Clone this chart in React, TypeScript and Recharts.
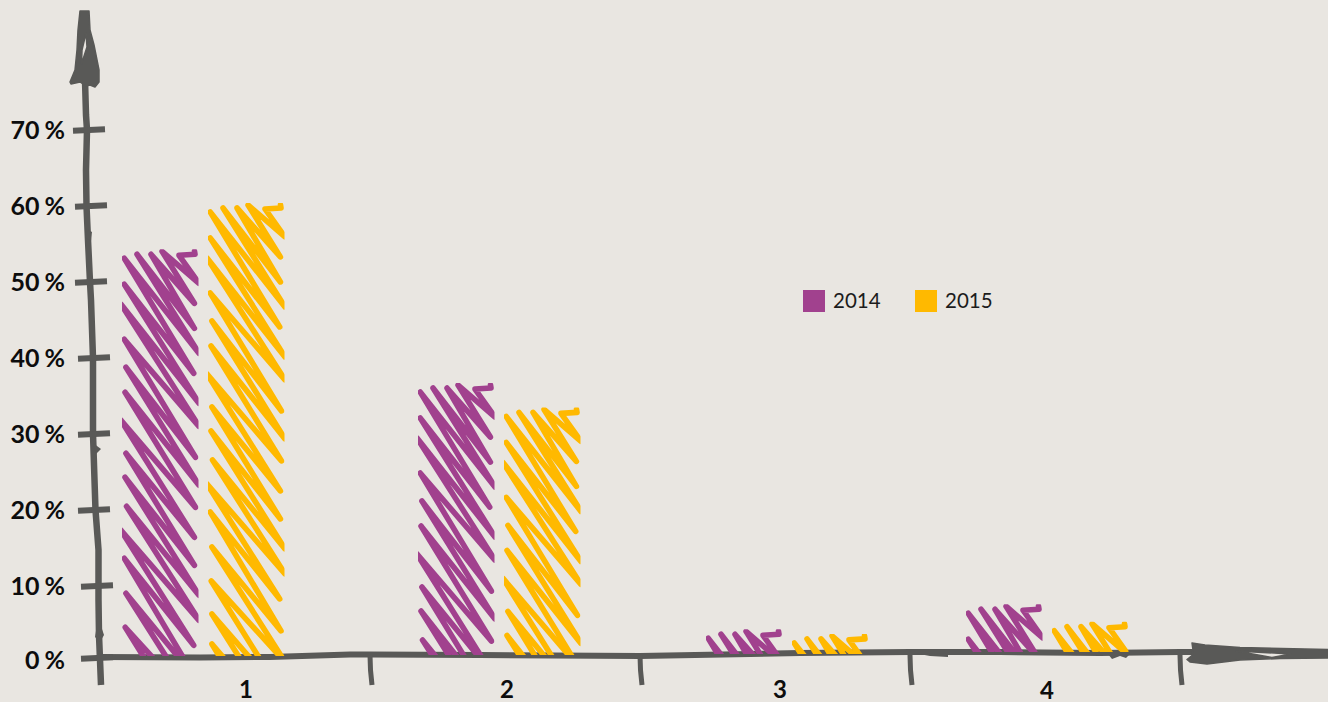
import React from "react";
import { BarChart, Bar, XAxis, YAxis, Legend } from "recharts";

// ---- data ----
const categories = ["1", "2", "3", "4"];
const series2014 = [54.3, 36.7, 4.3, 7.6];
const series2015 = [60.4, 33.5, 3.7, 5.3];
const yTicks = [0, 10, 20, 30, 40, 50, 60, 70];
const seriesNames = ["2014", "2015"];

const rows = categories.map((c, i) => ({ cat: c, a: series2014[i], b: series2015[i] }));

// ---- style ----
const BG = "#e9e6e1";
const INK = "#595957";
const PURPLE = "#a1418e";
const ORANGE = "#ffb900";
const TEXT = "#0d0d0d";
const LABEL_FONT = "Lato, 'DejaVu Sans', sans-serif";

// hand-drawn wobble offsets (decoration only)
const BAR_SHIFT = [-32, -6, 12, 2];
const BASE_LIFT = [6, 7, 8, 10];
const LABEL_SHIFT = [11, 2, 5, 2];
const LABEL_DROP = [0, 0, 0, 0.5];
const YTICK_LEFT = [81, 81, 78, 78, 78, 75, 75, 73];
const YTICK_DROP = [-4, 0, 0, 0, 0, 0, 0, 0];

// the scribble that fills each bar: the same hand stroke, anchored at the bar top
const SCRIBBLE_TOP: [number, number][] = [
  [72.5, -7], [73, -4], [57, -3], [77, 25], [40, -7], [72.4, 45], [29, -4], [72.4, 70], [15, -4], [77, 95],
];
const SCRIBBLE_LEFT: [number, number][] = [
  [2.2, 0], [2.2, 26], [-1, 46], [2.2, 81], [3.9, 109], [3, 134], [-1, 162], [3.9, 195], [3, 219], [4.5, 248],
  [-1, 272], [2.2, 300], [3.9, 335], [3.2, 369], [3.9, 402], [3.9, 432], [2, 462],
];
const SCRIBBLE_RIGHT: [number, number][] = [
  [71.7, 115], [77, 145], [77, 168], [73.5, 199], [77, 227], [73.5, 249], [72.4, 279], [72.4, 307], [77, 337],
  [77, 362], [71.7, 387], [73, 419], [77, 450], [75, 484], [77, 518], [74, 548], [77, 578],
];

function scribblePath(x: number, top: number) {
  const anchor = top + 9;
  const pts: [number, number][] = [...SCRIBBLE_TOP];
  SCRIBBLE_LEFT.forEach((p, i) => {
    pts.push(p);
    pts.push(SCRIBBLE_RIGHT[i]);
  });
  return pts.map((p, i) => `${i ? "L" : "M"}${x + p[0]} ${anchor + p[1]}`).join(" ");
}

function ScribbleBar(props: any) {
  const { x, y, width, height, fill, index, clipKey } = props;
  const shift = BAR_SHIFT[index];
  const px = x + shift;
  const id = `sc-${clipKey}-${index}`;
  return (
    <g>
      <clipPath id={id}>
        <rect x={px} y={y} width={width + 0.5} height={height - BASE_LIFT[index]} />
      </clipPath>
      <g clipPath={`url(#${id})`}>
        <path d={scribblePath(px, y)} fill="none" stroke={fill} strokeWidth={5.6} strokeLinejoin="round" strokeLinecap="round" />
      </g>
    </g>
  );
}

function YTick(props: any) {
  const { y, payload, index } = props;
  const left = YTICK_LEFT[index];
  const my = y + YTICK_DROP[index];
  return (
    <g>
      <text x={65} y={my + 9 + (index === 0 ? 2 : 0)} textAnchor="end" fontFamily={LABEL_FONT} fontSize={25} fontWeight={700} fill={TEXT}>
        {payload.value}
        <tspan dx={5}>%</tspan>
      </text>
      <path d={`M${left} ${my + 0.7} L${left + 32} ${my - 0.7}`} stroke={INK} strokeWidth={6} fill="none" />
    </g>
  );
}

function XTick(props: any) {
  const { x, y, payload, index } = props;
  const edge = x + 135;
  return (
    <g>
      <text x={x + LABEL_SHIFT[index]} y={y + 28 + LABEL_DROP[index]} textAnchor="middle" fontFamily={LABEL_FONT} fontSize={24} fontWeight={700} fill={TEXT}>
        {payload.value}
      </text>
      <path d={`M${edge} ${y - 15} L${edge + 0.5} ${y} L${edge + 2} ${y + 15}`} stroke={INK} strokeWidth={5} fill="none" />
    </g>
  );
}

function SketchAxes() {
  const spine =
    "M101 685 L100 660 L99 635 L98.5 600 L98.5 550 L95.5 510 L94.5 480 L93 434 L93 400 L93 358 L91 300 L90 282 L88 240 L86.5 206 L86 170 L87 130 L86 115 L85 80";
  const floor =
    "M100 657 L200 657.5 L270 657 L350 654.5 L370 654.5 L480 655 L640 656 L800 653 L910 652 L1000 652 L1100 653 L1180 652 L1195 652";
  return (
    <g>
      <path d={spine} stroke={INK} strokeWidth={6.5} fill="none" strokeLinejoin="round" />
      <path d={floor} stroke={INK} strokeWidth={6} fill="none" strokeLinejoin="round" />
      <path d="M914 653 L948 654 L948 657 L930 656 Z" fill={INK} />
      <path d="M1108 654 L1130 654 L1126 658 L1120 656 L1112 659 Z" fill={INK} />
      <path d="M96 631 L102 629 L104 635 L100 642 L95 637 Z" fill={INK} />
      <path d="M85 228 L92 232 L91 241 L86 238 Z" fill={INK} />
      <path d="M93 443 L101 449 L96 454 Z" fill={INK} />
      <path
        fillRule="evenodd"
        fill={INK}
        stroke={INK}
        strokeWidth={1.5}
        strokeLinejoin="round"
        d="M80 11 L89 11 L90 30 L94 45 L99 70 L99 82 L95 87 L90 85 L86 86 L80 82 L71 84 L70 82 L75 70 L77 50 L78 30 Z M86 33 L87 47 L81.5 64 L82 50 Z"
      />
      <path
        fillRule="evenodd"
        fill={INK}
        stroke={INK}
        strokeWidth={1.5}
        strokeLinejoin="round"
        d="M1192 643 L1205 645 L1240 647.5 L1328 649.5 L1328 658 L1280 658.5 L1240 660 L1207 664 L1190 662 L1187 659.5 L1192 655.5 L1193 650 Z M1236 651 L1291 654 L1272 657.5 Z"
      />
    </g>
  );
}

function LegendBox() {
  const colors = [PURPLE, ORANGE];
  return (
    <div style={{ position: "relative", width: 200, height: 22 }}>
      {seriesNames.map((n, i) => (
        <React.Fragment key={n}>
          <div style={{ position: "absolute", left: i * 112, top: 0, width: 22, height: 22, background: colors[i] }} />
          <div style={{ position: "absolute", left: 30 + i * 112, top: -2, lineHeight: "24px", fontFamily: LABEL_FONT, fontSize: 20.5, color: "#1c1c1c" }}>{n}</div>
        </React.Fragment>
      ))}
    </div>
  );
}

export default function App() {
  return (
    <div style={{ position: "fixed", left: 0, top: 0, width: 1328, height: 702, background: BG, overflow: "hidden" }}>
      <BarChart
        width={1328}
        height={702}
        data={rows}
        margin={{ top: 54, right: 148, bottom: 0, left: 0 }}
        barSize={76}
        barGap={10}
      >
        <XAxis dataKey="cat" height={40} axisLine={false} tickLine={false} tick={<XTick />} interval={0} />
        <YAxis width={100} domain={[0, 80]} ticks={yTicks} axisLine={false} tickLine={false} tick={<YTick />} interval={0} />
        <Bar dataKey="a" name="2014" fill={PURPLE} isAnimationActive={false} shape={(p: any) => <ScribbleBar {...p} clipKey="a" />} />
        <Bar dataKey="b" name="2015" fill={ORANGE} isAnimationActive={false} shape={(p: any) => <ScribbleBar {...p} clipKey="b" />} />
        <Legend
          verticalAlign="middle"
          align="center"
          content={() => <LegendBox />}
          wrapperStyle={{ position: "absolute", left: 803, top: 290, width: 200, height: 22 }}
        />
        <SketchAxes />
      </BarChart>
    </div>
  );
}
